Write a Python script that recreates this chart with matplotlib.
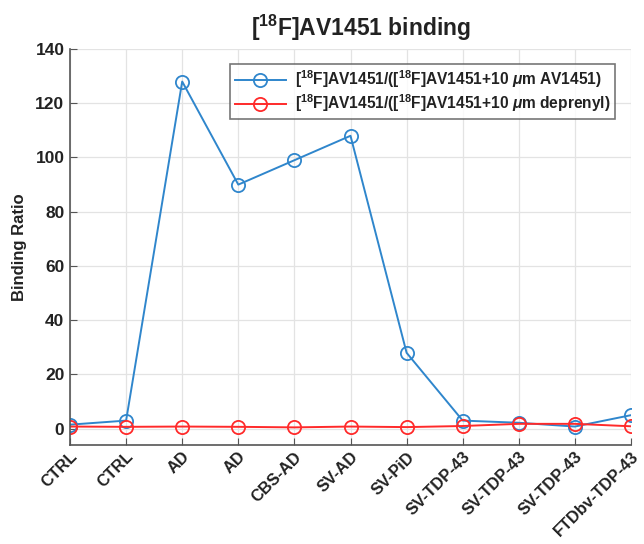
import matplotlib
matplotlib.use("Agg")
import matplotlib.pyplot as plt

categories = ["CTRL", "CTRL", "AD", "AD", "CBS-AD", "SV-AD", "SV-PiD",
              "SV-TDP-43", "SV-TDP-43", "SV-TDP-43", "FTDbv-TDP-43"]
av1451_ratio = [1.5, 3.0, 128.0, 90.0, 99.0, 108.0, 28.0, 3.0, 2.2, 0.8, 5.0]
deprenyl_ratio = [0.8, 0.7, 0.8, 0.7, 0.5, 0.8, 0.6, 1.0, 1.8, 1.8, 0.9]
yticks = [0, 20, 40, 60, 80, 100, 120, 140]

plt.rcParams['font.family'] = ['Liberation Sans', 'DejaVu Sans']
plt.rcParams['mathtext.fontset'] = 'custom'
plt.rcParams['mathtext.rm'] = 'Liberation Sans:bold'
plt.rcParams['mathtext.it'] = 'Liberation Sans:italic:bold'
plt.rcParams['mathtext.bf'] = 'Liberation Sans:bold'
plt.rcParams['mathtext.default'] = 'rm'

fig = plt.figure(figsize=(6.44, 5.44), dpi=100)
ax = fig.add_axes([70/644, 1-445/544, (631-70)/644, (445-49)/544])

x = list(range(1, len(categories) + 1))
blue = '#2f86cc'
red = '#ff2a2a'
ax.plot(x, av1451_ratio, '-o', color=blue, mfc='none', mec=blue, ms=9.5, mew=1.3, lw=1.4,
        label=r'[$^{18}$F]AV1451/([$^{18}$F]AV1451+10 $\mathit{\mu}$m AV1451)')
ax.plot(x, deprenyl_ratio, '-o', color=red, mfc='none', mec=red, ms=9.5, mew=1.3, lw=1.4,
        label=r'[$^{18}$F]AV1451/([$^{18}$F]AV1451+10 $\mathit{\mu}$m deprenyl)')

ax.set_xlim(1, 11)
ax.set_ylim(-6, 140)
ax.set_yticks(yticks)
ax.set_xticks(x)
ax.set_xticklabels(categories, rotation=45, ha='right', va='top',
                   rotation_mode='anchor', fontweight='bold', fontsize=11.8)
for lbl in ax.get_yticklabels():
    lbl.set_fontweight('bold')
    lbl.set_fontsize(12.5)

ax.grid(True, color='#e3e3e3', lw=0.9)
ax.set_axisbelow(True)
for s in ['top', 'right']:
    ax.spines[s].set_visible(False)
for s in ['left', 'bottom']:
    ax.spines[s].set_color('#555555')
    ax.spines[s].set_linewidth(1.2)
ax.tick_params(direction='in', length=5, color='#555555', colors='#222222', pad=4)
ax.tick_params(axis='x', pad=3)

ax.set_ylabel('Binding Ratio', fontsize=12, fontweight='bold', color='#222222', labelpad=6)
fig.text(0.561, 0.948, r'[$^{18}$F]AV1451 binding', fontsize=16.5, fontweight='bold',
         ha='center', va='center', color='#222222')

leg = ax.legend(loc='upper right', bbox_to_anchor=(0.972, 0.962), fontsize=11.2,
                frameon=True, fancybox=False, handlelength=3.3, borderpad=0.3,
                labelspacing=0.12, handletextpad=0.6, borderaxespad=0)
leg.get_frame().set_edgecolor('#555555')
leg.get_frame().set_linewidth(1.2)
for t in leg.get_texts():
    t.set_fontweight('bold')
    t.set_color('#222222')

fig.savefig('out.png', dpi=100)
